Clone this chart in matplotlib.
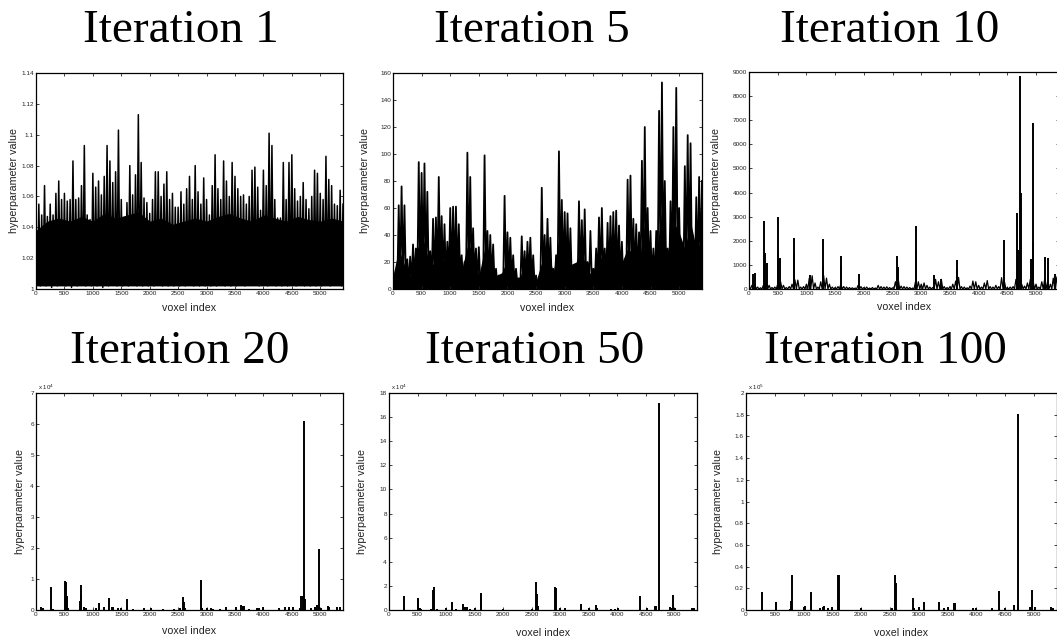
import numpy as np
import matplotlib
matplotlib.use('Agg')
import matplotlib.pyplot as plt
from matplotlib.ticker import FuncFormatter

plt.rcParams['font.family'] = ['Liberation Sans', 'DejaVu Sans']

titles = ['Iteration 1', 'Iteration 5', 'Iteration 10',
          'Iteration 20', 'Iteration 50', 'Iteration 100']

grid = np.arange(0, 5401, 50)
grid100 = np.arange(0, 5401, 100)
grid200 = np.arange(0, 5401, 200)

it1_peak = [1.038, 1.055, 1.048, 1.067, 1.047, 1.055, 1.048, 1.062, 1.070, 1.058,
            1.062, 1.057, 1.058, 1.083, 1.058, 1.059, 1.067, 1.093, 1.048, 1.045,
            1.075, 1.066, 1.070, 1.061, 1.073, 1.093, 1.083, 1.069, 1.076, 1.103,
            1.058, 1.044, 1.056, 1.080, 1.061, 1.074, 1.113, 1.082, 1.059, 1.056,
            1.049, 1.058, 1.076, 1.076, 1.060, 1.068, 1.076, 1.058, 1.062, 1.053,
            1.053, 1.063, 1.055, 1.065, 1.073, 1.058, 1.080, 1.063, 1.055, 1.072,
            1.058, 1.048, 1.067, 1.087, 1.065, 1.058, 1.083, 1.070, 1.060, 1.082,
            1.073, 1.065, 1.060, 1.061, 1.055, 1.060, 1.077, 1.079, 1.066, 1.051,
            1.077, 1.067, 1.101, 1.093, 1.058, 1.046, 1.046, 1.082, 1.058, 1.082,
            1.087, 1.065, 1.057, 1.060, 1.069, 1.058, 1.052, 1.060, 1.077, 1.075,
            1.062, 1.058, 1.086, 1.071, 1.067, 1.055, 1.054, 1.064, 1.055]
it1_low = [1.003, 1.002, 1.004, 1.002, 1.003, 1.001, 1.003, 1.002, 1.004, 1.003,
           1.002, 1.003, 1.001, 1.004, 1.002, 1.003, 1.006, 1.002, 1.003, 1.002,
           1.004, 1.002, 1.003, 1.001, 1.003, 1.002, 1.004, 1.003, 1.002, 1.003,
           1.002, 1.004, 1.002, 1.003, 1.005, 1.002, 1.003, 1.002, 1.004, 1.002,
           1.003, 1.002, 1.003, 1.005, 1.002, 1.003, 1.002, 1.003, 1.002, 1.004,
           1.002, 1.003, 1.002, 1.004, 1.007, 1.002, 1.003, 1.002, 1.004, 1.002,
           1.003, 1.002, 1.003, 1.002, 1.004, 1.003, 1.002, 1.003, 1.002, 1.004,
           1.002, 1.003, 1.005, 1.002, 1.003, 1.004, 1.007, 1.003, 1.002, 1.004,
           1.003, 1.002, 1.006, 1.003, 1.002, 1.004, 1.002, 1.003, 1.002, 1.004,
           1.003, 1.002, 1.003, 1.005, 1.002, 1.003, 1.002, 1.004, 1.002, 1.003,
           1.002, 1.004, 1.003, 1.002, 1.003, 1.005, 1.003, 1.002, 1.004]
# level below which the trace is solid black, read every 200 voxels
it1_core = [1.038, 1.044, 1.046, 1.044, 1.047, 1.044, 1.049, 1.046, 1.048, 1.050,
            1.044, 1.046, 1.042, 1.044, 1.046, 1.044, 1.047, 1.049, 1.046, 1.044,
            1.048, 1.046, 1.044, 1.047, 1.045, 1.044, 1.046, 1.044]

it5_peak = [15, 8, 62, 76, 62, 22, 24, 33, 30, 94,
            86, 93, 72, 28, 52, 53, 83, 54, 48, 35,
            60, 61, 61, 48, 25, 20, 101, 83, 45, 30,
            31, 12, 99, 43, 40, 33, 15, 10, 8, 69,
            42, 38, 25, 15, 8, 39, 28, 35, 38, 25,
            10, 4, 75, 40, 52, 38, 15, 25, 102, 66,
            57, 56, 45, 10, 8, 65, 51, 59, 20, 43,
            15, 30, 53, 60, 30, 49, 54, 57, 58, 47,
            35, 20, 81, 84, 52, 48, 42, 95, 120, 60,
            43, 30, 43, 132, 153, 80, 30, 65, 120, 149,
            60, 20, 91, 114, 108, 25, 68, 83, 80]
it5_low = [3, 2, 6, 8, 5, 3, 4, 6, 5, 8,
           9, 10, 7, 4, 6, 8, 10, 8, 6, 4,
           8, 10, 9, 7, 4, 3, 8, 9, 6, 4,
           5, 2, 7, 6, 5, 4, 2, 2, 1, 5,
           6, 5, 4, 3, 2, 5, 6, 6, 5, 3,
           2, 1, 5, 6, 7, 5, 3, 4, 8, 9,
           8, 7, 5, 2, 2, 6, 7, 8, 4, 5,
           3, 4, 6, 8, 5, 6, 7, 8, 8, 6,
           5, 4, 9, 10, 8, 7, 6, 10, 14, 9,
           6, 5, 7, 12, 15, 10, 5, 8, 12, 14,
           8, 4, 9, 12, 10, 4, 7, 9, 8]
# solid-black level, read every 100 voxels
it5_core = [10, 30, 18, 10, 25, 42, 25, 18, 38, 20,
            38, 42, 14, 32, 30, 10, 30, 24, 10, 12,
            22, 14, 6, 20, 22, 6, 20, 30, 12, 38,
            36, 18, 20, 30, 10, 14, 26, 18, 26, 26,
            20, 30, 26, 20, 50, 20, 26, 60, 14, 50,
            42, 30, 50, 30, 36]

it10_bg = [100, 150, 200, 80, 50, 150, 300, 150, 60, 80,
           200, 300, 150, 60, 100, 200, 380, 370, 80, 100,
           200, 450, 550, 250, 80, 300, 560, 450, 200, 80,
           60, 100, 200, 100, 80, 60, 50, 40, 150, 100,
           60, 80, 40, 60, 40, 150, 100, 80, 90, 60,
           50, 300, 400, 120, 100, 80, 60, 40, 300, 300,
           200, 250, 150, 80, 60, 400, 300, 400, 100, 60,
           100, 200, 330, 480, 100, 80, 50, 120, 330, 300,
           150, 80, 250, 350, 100, 80, 150, 100, 470, 300,
           60, 80, 100, 400, 300, 200, 120, 250, 400, 300,
           200, 80, 300, 400, 300, 200, 450, 500, 300]

# sparse spikes (voxel index, value)
it10_x = [64, 105, 264, 275, 310, 498, 510, 533, 780, 790,
          1070, 1283, 1295, 1600, 1610, 1920, 2585, 2595, 2906, 2915,
          3230, 3340, 3620, 3630, 4448, 4676, 4690, 4723, 4735, 4910,
          4946, 4955, 5163, 5210, 5333]
it10_v = [620, 650, 2800, 1500, 1080, 3000, 1500, 1280, 2130, 1500,
          600, 2080, 1000, 1370, 1000, 620, 1370, 900, 2630, 1600,
          560, 430, 1210, 800, 2040, 3150, 1600, 8850, 4000, 1230,
          6870, 2000, 1330, 1290, 620]

it20_x = [80, 130, 268, 300, 507, 520, 542, 560, 780, 793,
          800, 850, 880, 1050, 1113, 1200, 1290, 1330, 1360, 1440,
          1500, 1603, 1700, 1900, 2030, 2240, 2420, 2540, 2580, 2595,
          2620, 2903, 2915, 3010, 3080, 3120, 3230, 3340, 3520, 3600,
          3640, 3660, 3750, 3880, 3930, 3990, 4270, 4380, 4450, 4520,
          4640, 4670, 4690, 4710, 4730, 4830, 4900, 4944, 4973, 5020,
          5130, 5160, 5300, 5340]
it20_v = [900, 500, 7300, 300, 9500, 9000, 4600, 600, 3000, 8200,
          5000, 900, 700, 500, 2300, 900, 4000, 1100, 1100, 600,
          800, 3400, 300, 500, 800, 400, 300, 500, 4300, 2500,
          800, 9800, 600, 700, 500, 400, 300, 1100, 900, 1500,
          1400, 1300, 400, 800, 600, 900, 500, 1100, 1100, 900,
          700, 4500, 4400, 61000, 3500, 500, 1000, 1700, 19800, 800,
          1400, 1000, 1100, 1100]

it50_x = [270, 504, 515, 540, 560, 730, 780, 790, 850, 1000,
          1113, 1180, 1295, 1336, 1360, 1420, 1500, 1611, 1620, 1990,
          2500, 2578, 2590, 2610, 2913, 2920, 3000, 3080, 3358, 3500,
          3633, 3650, 3900, 3960, 4010, 4400, 4520, 4660, 4676, 4735,
          4920, 4960, 4980, 5020, 5310, 5340]
it50_v = [11800, 10000, 9500, 1500, 1000, 500, 17000, 19000, 1000, 1500,
          7000, 800, 5000, 2500, 2300, 500, 1500, 14000, 13500, 1000,
          1000, 23300, 13000, 3500, 19000, 18500, 1500, 2000, 5000, 1500,
          4000, 1500, 1000, 1000, 1500, 12000, 1500, 3500, 3500, 172000,
          2500, 2000, 12500, 1500, 1500, 1500]

it100_x = [274, 514, 520, 760, 782, 800, 1010, 1033, 1120, 1290,
           1330, 1350, 1420, 1500, 1599, 1610, 2000, 2530, 2579, 2597,
           2610, 2906, 2920, 3000, 3093, 3349, 3440, 3500, 3612, 3625,
           3950, 4000, 4270, 4388, 4500, 4650, 4720, 4730, 4930, 4971,
           5010, 5300, 5330]
it100_v = [16500, 7000, 6500, 1000, 8500, 32000, 3000, 4000, 16500, 2000,
           3000, 4000, 1500, 2500, 32000, 32000, 2000, 1500, 32000, 24500,
           2000, 11000, 2000, 2500, 7500, 7500, 2000, 2500, 6500, 6000,
           2000, 2000, 1500, 17500, 2000, 5000, 181000, 3000, 3000, 18500,
           2500, 2500, 2000]

W, H = 1057, 641
fig = plt.figure(figsize=(W / 100, H / 100), dpi=100)

# axes boxes in pixels: left, top, right, bottom
boxes = [(36, 73, 343, 289), (393, 73, 702, 289), (749, 72, 1059, 289),
         (36, 393, 343, 610), (389, 393, 697, 610), (746, 393, 1057, 610)]
title_pos = [(181, 42), (532, 42), (890, 42), (180, 363), (535, 363), (885, 363)]
ylab_x = [14, 365, 716, 20, 362, 718]
xlab_y = [308, 308, 307, 631, 633, 633]
ylims = [(1, 1.14), (0, 160), (0, 9000), (0, 7e4), (0, 18e4), (0, 2e5)]
ysteps = [0.02, 20, 1000, 1e4, 2e4, 0.2e5]
yscale = [1, 1, 1, 1e4, 1e4, 1e5]
yexp = [None, None, None, 4, 4, 5]


def zigzag(x, hi, lo):
    xs = np.empty(2 * len(x))
    ys = np.empty(2 * len(x))
    xs[0::2] = x
    xs[1::2] = np.asarray(x) + 25
    ys[0::2] = hi
    ys[1::2] = lo
    return xs[:-1], ys[:-1]


axes = []
for i, (l, t, r, b) in enumerate(boxes):
    ax = fig.add_axes([l / W, 1 - b / H, (r - l) / W, (b - t) / H])
    axes.append(ax)
    ax.set_xlim(0, 5400)
    ax.set_ylim(*ylims[i])
    ax.set_xticks(np.arange(0, 5001, 500))
    ax.set_yticks(np.arange(ylims[i][0], ylims[i][1] + ysteps[i] / 2, ysteps[i]))
    sc = yscale[i]
    ax.yaxis.set_major_formatter(FuncFormatter(lambda v, p, sc=sc: '%g' % round(v / sc, 6)))
    ax.tick_params(direction='in', length=2.2, width=0.6, labelsize=4.6, pad=1.5,
                   top=True, right=True, colors='#222222', labelcolor='#222222')
    for s in ax.spines.values():
        s.set_linewidth(0.9)
    if yexp[i]:
        ax.text(0.005, 1.004, r'x 10$^{%d}$' % yexp[i], transform=ax.transAxes,
                fontsize=4.4, va='bottom', ha='left', color='#222222')
    fig.text(title_pos[i][0] / W, 1 - title_pos[i][1] / H, titles[i],
             family='Liberation Serif', fontsize=34, ha='center', va='baseline')
    fig.text(ylab_x[i] / W, 1 - (t + b) / 2 / H, 'hyperparameter value', rotation=90,
             fontsize=7.7, ha='center', va='center', color='#222222')
    fig.text((l + r) / 2 / W, 1 - xlab_y[i] / H, 'voxel index',
             fontsize=7.7, ha='center', va='center', color='#222222')

axes[0].fill_between(grid200, 1.002, it1_core, color='k', lw=0)
xs, ys = zigzag(grid, it1_peak, it1_low)
axes[0].plot(xs, ys, color='k', lw=1.1)

axes[1].fill_between(grid100, 0, it5_core, color='k', lw=0)
xs, ys = zigzag(grid, it5_peak, it5_low)
axes[1].plot(xs, ys, color='k', lw=1.3)

xs, ys = zigzag(grid, it10_bg, np.zeros(len(grid)))
axes[2].plot(xs, ys, color='k', lw=0.9)
axes[2].vlines(it10_x, 0, it10_v, color='k', lw=1.4)

axes[3].vlines(it20_x, 0, it20_v, color='k', lw=1.4)
axes[4].vlines(it50_x, 0, it50_v, color='k', lw=1.4)
axes[5].vlines(it100_x, 0, it100_v, color='k', lw=1.4)

fig.savefig('out.png', dpi=100)
